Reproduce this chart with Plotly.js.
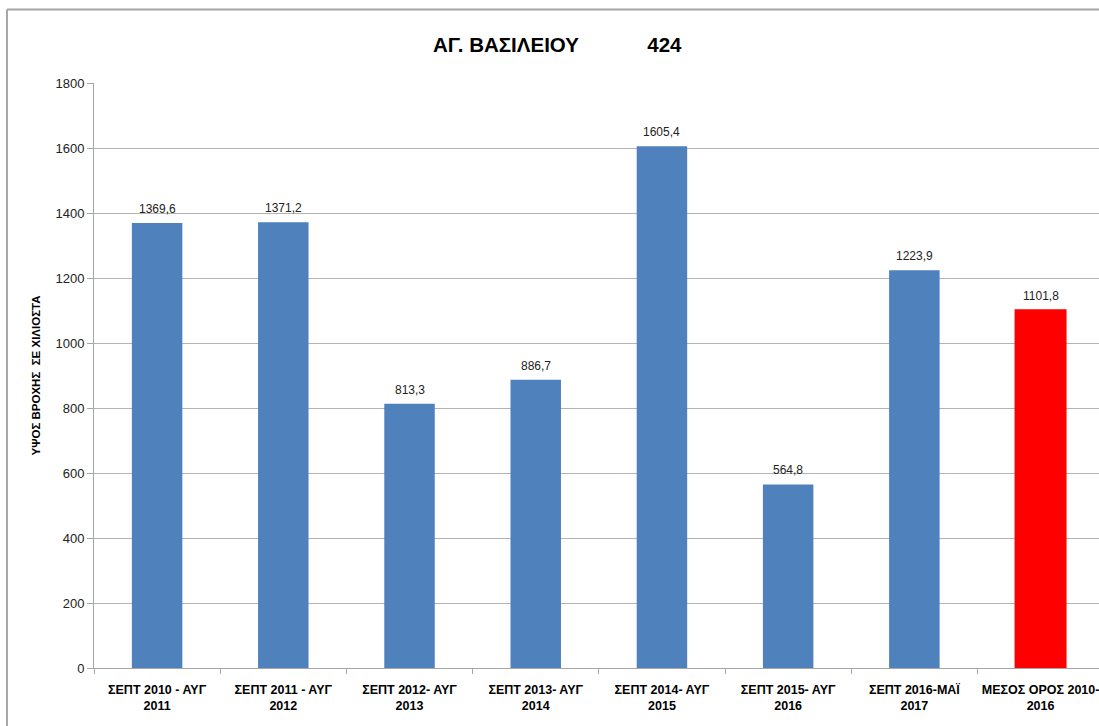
<!DOCTYPE html>
<html>
<head>
<meta charset="utf-8">
<script src="https://cdn.plot.ly/plotly-3.0.1.min.js"></script>
<style>
html,body{margin:0;padding:0;background:#fff;overflow:hidden;}
#chart{width:1099px;height:726px;}
</style>
</head>
<body>
<div id="chart"></div>
<script>
const categories = [
  "ΣΕΠΤ 2010 - ΑΥΓ<br>2011",
  "ΣΕΠΤ 2011 - ΑΥΓ<br>2012",
  "ΣΕΠΤ 2012- ΑΥΓ<br>2013",
  "ΣΕΠΤ 2013- ΑΥΓ<br>2014",
  "ΣΕΠΤ 2014- ΑΥΓ<br>2015",
  "ΣΕΠΤ 2015- ΑΥΓ<br>2016",
  "ΣΕΠΤ 2016-ΜΑΪ<br>2017",
  "ΜΕΣΟΣ ΟΡΟΣ 2010-<br>2016"
];
const rainfall = [1369.6, 1371.2, 813.3, 886.7, 1605.4, 564.8, 1223.9, 1101.8];
const barColors = ["#4F81BD","#4F81BD","#4F81BD","#4F81BD","#4F81BD","#4F81BD","#4F81BD","#FF0000"];
const yTicks = [0, 200, 400, 600, 800, 1000, 1200, 1400, 1600, 1800];

const labels = rainfall.map(v => v.toFixed(1).replace('.', ','));
const FONT = 'Liberation Sans, Arial, sans-serif';

const trace = {
  type: 'bar',
  x: categories,
  y: rainfall,
  marker: {color: barColors, line: {color: barColors, width: [0,0,0,0,0,0,0,1.5]}},
  width: 0.4,
  hoverinfo: 'none'
};

const annotations = categories.map((c, i) => ({
  x: c, y: rainfall[i], xref: 'x', yref: 'y',
  text: labels[i], showarrow: false,
  yanchor: 'bottom', yshift: 5,
  font: {family: FONT, size: 12, color: '#222'}
}));

const layout = {
  width: 1099,
  height: 726,
  margin: {l: 94, r: 0, t: 83, b: 58},
  paper_bgcolor: '#fff',
  plot_bgcolor: '#fff',
  showlegend: false,
  font: {family: FONT, color: '#000'},
  title: {
    text: '<b>ΑΓ. ΒΑΣΙΛΕΙΟΥ            424</b>',
    font: {size: 20.5, family: FONT, color: '#000'},
    x: 0.507, xanchor: 'center', y: 0.938, yanchor: 'middle'
  },
  xaxis: {
    type: 'category',
    range: [-0.5, 7.463],
    showgrid: false,
    showline: true,
    linecolor: '#a6a6a6',
    linewidth: 1,
    ticks: 'outside',
    tickson: 'boundaries',
    ticklen: 5,
    tickcolor: '#a6a6a6',
    ticklabelstandoff: 10,
    tickfont: {size: 12.5, family: FONT, color: '#000', weight: 'bold'},
    tickangle: 0,
    fixedrange: true
  },
  yaxis: {
    range: [0, 1800],
    tickvals: yTicks,
    ticktext: yTicks.map(String),
    showgrid: true,
    gridcolor: '#b3b3b3',
    gridwidth: 1,
    zeroline: false,
    showline: true,
    linecolor: '#a6a6a6',
    ticks: 'outside',
    ticklen: 6,
    tickcolor: '#a6a6a6',
    tickfont: {size: 13, family: FONT, color: '#222'},
    title: {
      text: '<b>ΥΨΟΣ ΒΡΟΧΗΣ  ΣΕ ΧΙΛΙΟΣΤΑ</b>',
      font: {size: 11.5, family: FONT, color: '#000'},
      standoff: 12
    },
    fixedrange: true
  },
  annotations: annotations,
  shapes: [
    {type: 'line', xref: 'paper', yref: 'paper', x0: -0.0866, x1: -0.0866, y0: -0.12, y1: 1.1256,
     line: {color: '#a6a6a6', width: 2}},
    {type: 'line', xref: 'paper', yref: 'paper', x0: -0.0866, x1: 1.01, y0: 1.1256, y1: 1.1256,
     line: {color: '#a6a6a6', width: 2}}
  ]
};

Plotly.newPlot('chart', [trace], layout, {displayModeBar: false, staticPlot: true});
</script>
</body>
</html>
